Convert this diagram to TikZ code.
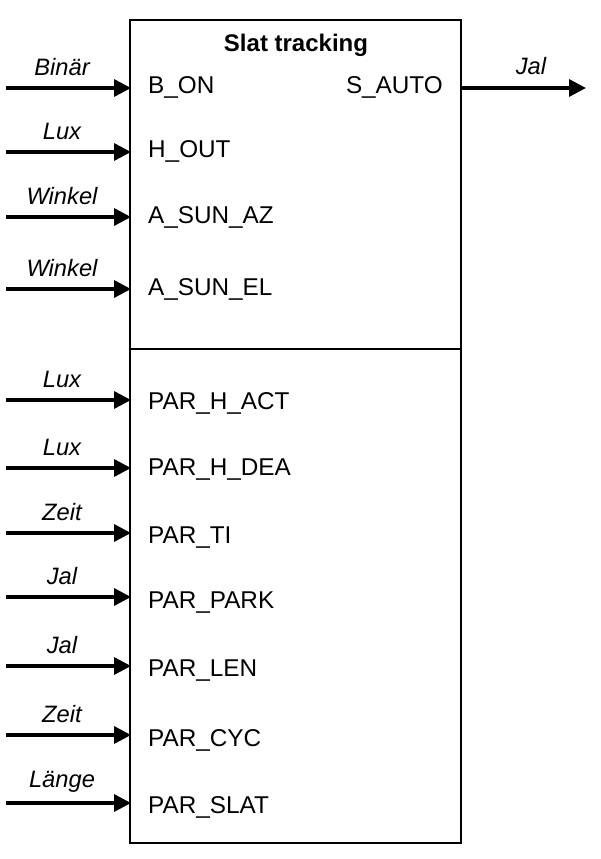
\documentclass[tikz,border=0pt]{standalone}
\usepackage{fontspec}
\setmainfont{Liberation Sans}
\usetikzlibrary{arrows.meta}
\begin{document}
\begin{tikzpicture}[x=1pt,y=-1pt,
  sig/.style={line width=3.4pt,-{Triangle[length=17pt,width=17pt]}},
  port/.style={anchor=west,inner sep=0pt,font=\fontsize{24.3}{26}\selectfont},
  typ/.style={inner sep=0pt,font=\fontsize{23.7}{26}\selectfont\itshape},
  ttl/.style={inner sep=0pt,font=\fontsize{24}{26}\selectfont\bfseries}]
\useasboundingbox (0,0) rectangle (600,859);
\draw[line width=2pt] (130,20) rectangle (461,843);
\draw[line width=1.5pt] (130,349) -- (461,349);
\node[ttl] (title) at (296,45) {Slat tracking};
\node[port,anchor=east] (sauto) at (443,87) {S\_AUTO};
\coordinate (oa) at (461,88);
\coordinate (ob) at (586,88);
\draw[sig] (oa) -- (ob);
\node[typ] (tout) at (531,66) {Jal};
\foreach \y/\yt/\t/\p [count=\i] in {
  88/87/Binär/B\_ON,
  152/151/Lux/H\_OUT,
  217/217/Winkel/A\_SUN\_AZ,
  289/289/Winkel/A\_SUN\_EL,
  400/403/Lux/PAR\_H\_ACT,
  468/470/Lux/PAR\_H\_DEA,
  533/538/Zeit/PAR\_TI,
  597/603/Jal/PAR\_PARK,
  666/671/Jal/PAR\_LEN,
  735/740/Zeit/PAR\_CYC,
  803/807/Länge/PAR\_SLAT}{
  \coordinate (s\i) at (6,\y);
  \coordinate (e\i) at (131,\y);
  \draw[sig] (s\i) -- (e\i);
  \node[typ] (t\i) at (62,\y-21) {\t};
  \node[port] (p\i) at (148,\yt) {\p};
}
\end{tikzpicture}
\end{document}
